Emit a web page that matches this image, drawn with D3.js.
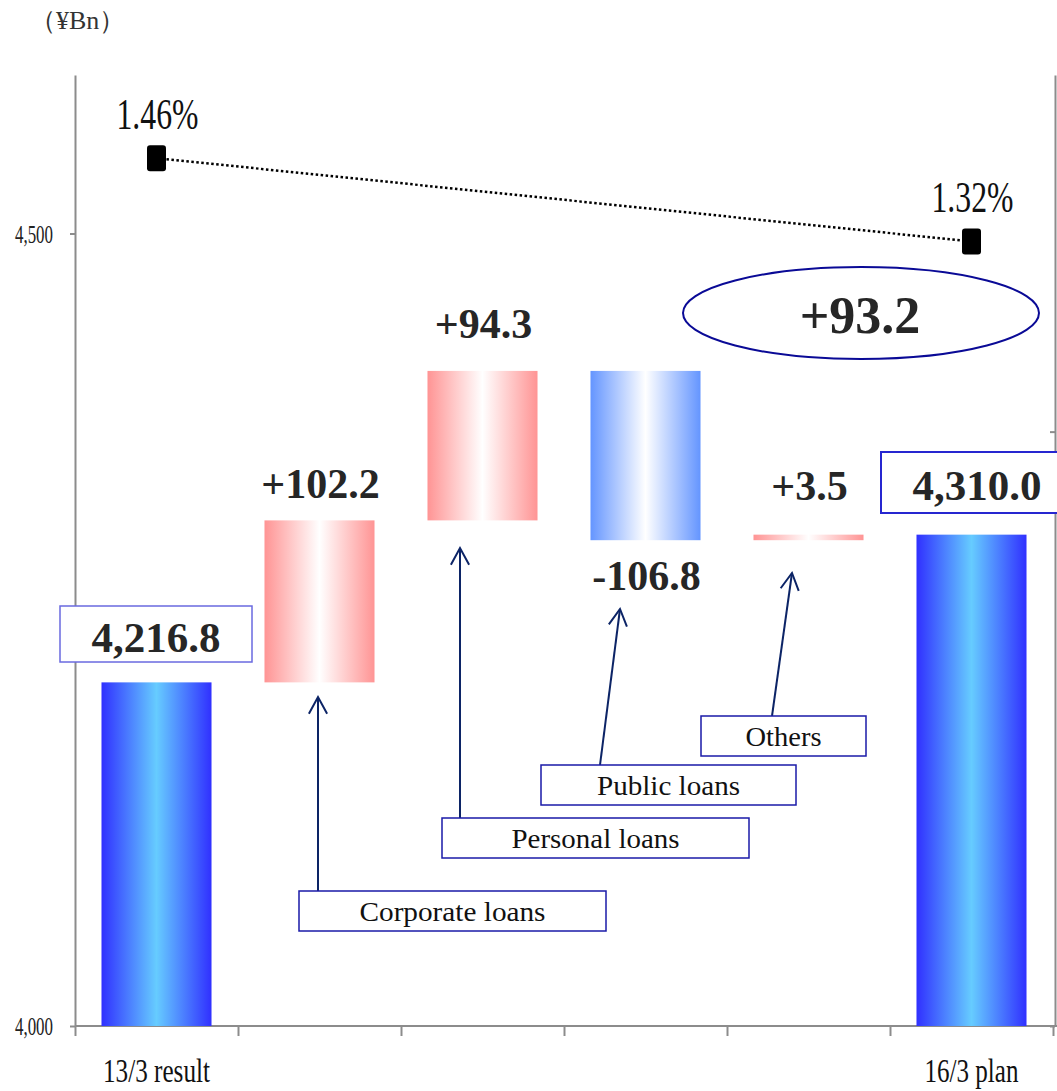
<!DOCTYPE html>
<html>
<head>
<meta charset="utf-8">
<script src="https://cdn.jsdelivr.net/npm/d3@7"></script>
<style>
  html, body { margin: 0; padding: 0; background: #fff; }
  svg { display: block; }
  text { font-family: "Liberation Serif", "Times New Roman", serif; }
</style>
</head>
<body>
<svg id="chart" width="1057" height="1091"></svg>
<script>
// ---- data ----
const categories = ["13/3 result", "Corporate loans", "Personal loans", "Public loans", "Others", "16/3 plan"];
const axisLabels = ["13/3 result", "", "", "", "", "16/3 plan"];
const startTotal = 4216.8;
const endTotal = 4310.0;
const changes = [null, 102.2, 94.3, -106.8, 3.5, null];
const netChange = 93.2;
const yieldValues = [1.46, null, null, null, null, 1.32];
const leftTicks = [4000, 4500];
const rightTicks = [0, 1.0];

// ---- layout ----
const W = 1057, H = 1091;
const plot = { left: 75, right: 1053, top: 75, bottom: 1026 };
const svg = d3.select("#chart");

const x = d3.scaleBand().domain(categories)
  .range([plot.left, plot.right]).paddingInner(0.325).paddingOuter(0.1625);
const y = d3.scaleLinear().domain([4000, 4600]).range([plot.bottom, plot.top]);
const yRight = d3.scaleLinear().domain([0, 1.6]).range([plot.bottom, plot.top]);
const xEdges = d3.scaleLinear().domain([0, categories.length]).range([plot.left, plot.right]);

// waterfall segments
let running = startTotal;
const bars = categories.map((c, i) => {
  if (i === 0) return { cat: c, lo: 4000, hi: startTotal, kind: "total" };
  if (i === categories.length - 1) return { cat: c, lo: 4000, hi: endTotal, kind: "total" };
  const from = running;
  running = +(running + changes[i]).toFixed(1);
  return { cat: c, lo: Math.min(from, running), hi: Math.max(from, running),
           kind: changes[i] >= 0 ? "up" : "down", value: changes[i] };
});

// ---- gradients ----
const defs = svg.append("defs");
function hGradient(id, edge, mid) {
  const g = defs.append("linearGradient").attr("id", id)
    .attr("x1", "0%").attr("x2", "100%").attr("y1", "0%").attr("y2", "0%");
  g.append("stop").attr("offset", "0%").attr("stop-color", edge);
  g.append("stop").attr("offset", "50%").attr("stop-color", mid);
  g.append("stop").attr("offset", "100%").attr("stop-color", edge);
}
hGradient("gTotal", "#3030ff", "#66ccff");
hGradient("gUp", "#ff9494", "#ffffff");
hGradient("gDown", "#6495ff", "#ffffff");
const fillFor = { total: "url(#gTotal)", up: "url(#gUp)", down: "url(#gDown)" };

// ---- axes ----
const axisColor = "#8c8c8c";
function styleAxis(g) {
  g.selectAll("path, line").attr("stroke", axisColor).attr("stroke-width", 2);
}

// left value axis
const gLeft = svg.append("g").attr("transform", `translate(${plot.left},0)`)
  .call(d3.axisLeft(y).tickValues(leftTicks).tickSize(5).tickSizeOuter(0).tickFormat(d3.format(",")));
styleAxis(gLeft);
gLeft.selectAll("text").remove();
leftTicks.forEach(v => {
  svg.append("text").attr("x", 15).attr("y", y(v) + 9)
    .attr("font-size", 25).attr("fill", "#222")
    .attr("textLength", 38).attr("lengthAdjust", "spacingAndGlyphs")
    .text(d3.format(",")(v));
});

// right percentage axis (ticks only)
const gRight = svg.append("g").attr("transform", `translate(1055,0)`)
  .call(d3.axisLeft(yRight).tickValues(rightTicks).tickSize(5).tickSizeOuter(0).tickFormat(""));
styleAxis(gRight);

// category axis with ticks at the group boundaries
const gBottom = svg.append("g").attr("transform", `translate(0,${plot.bottom})`)
  .call(d3.axisBottom(xEdges).tickValues(d3.range(categories.length + 1)).tickSize(10).tickSizeOuter(0).tickFormat(""));
styleAxis(gBottom);
gBottom.select("path.domain").attr("d", `M${plot.left},0H${W}`);

const axisLabelWidth = { "13/3 result": 107, "16/3 plan": 94 };
categories.forEach((c, i) => {
  const t = axisLabels[i];
  if (!t) return;
  svg.append("text").attr("x", x(c) + x.bandwidth() / 2).attr("y", 1082)
    .attr("text-anchor", "middle").attr("font-size", 33).attr("fill", "#111")
    .attr("textLength", axisLabelWidth[t]).attr("lengthAdjust", "spacingAndGlyphs")
    .text(t);
});

// unit label
svg.append("text").attr("x", 30).attr("y", 29).attr("font-size", 26).attr("fill", "#333")
  .text("（¥Bn）");

// ---- bars ----
svg.append("g").selectAll("rect").data(bars).join("rect")
  .attr("x", d => x(d.cat))
  .attr("width", x.bandwidth())
  .attr("y", d => y(d.hi))
  .attr("height", d => Math.max(3, y(d.lo) - y(d.hi)))
  .attr("fill", d => fillFor[d.kind]);

// ---- value labels ----
const boldColor = "#262626";
const fmtSigned = v => (v >= 0 ? "+" : "-") + Math.abs(v).toFixed(1);
const changeLabelY = { 1: 498, 2: 338, 3: 590, 4: 500 };
bars.forEach((d, i) => {
  if (d.kind === "total") return;
  svg.append("text").attr("x", x(d.cat) + x.bandwidth() / 2 + 1).attr("y", changeLabelY[i])
    .attr("text-anchor", "middle").attr("font-size", 42).attr("font-weight", "bold")
    .attr("fill", boldColor).text(fmtSigned(d.value));
});

// boxed totals
function totalBox(cat, value, box, stroke, sw) {
  svg.append("rect").attr("x", box.x).attr("y", box.y).attr("width", box.w).attr("height", box.h)
    .attr("fill", "#fff").attr("stroke", stroke).attr("stroke-width", sw);
  svg.append("text").attr("x", box.tx).attr("y", box.ty).attr("text-anchor", "middle")
    .attr("font-size", 43).attr("font-weight", "bold").attr("fill", boldColor)
    .text(d3.format(",.1f")(value));
}
totalBox(categories[0], startTotal, { x: 60, y: 606, w: 192, h: 56, tx: 156, ty: 652 }, "#6a6ae0", 1.5);
totalBox(categories[5], endTotal, { x: 881, y: 452, w: 200, h: 61, tx: 977, ty: 500 }, "#2626d0", 2);

// net change callout
svg.append("ellipse").attr("cx", 861).attr("cy", 313).attr("rx", 178).attr("ry", 46)
  .attr("fill", "none").attr("stroke", "#0a0a96").attr("stroke-width", 2);
svg.append("text").attr("x", 860).attr("y", 333).attr("text-anchor", "middle")
  .attr("font-size", 52).attr("font-weight", "bold").attr("fill", boldColor)
  .text(fmtSigned(netChange));

// ---- category callouts with arrows ----
const callouts = [
  { cat: "Corporate loans", box: [299, 891, 307, 40], from: [318, 891], to: [318, 697], tw: 186 },
  { cat: "Personal loans",  box: [442, 818, 307, 40], from: [460, 818], to: [460, 548], tw: 168 },
  { cat: "Public loans",    box: [541, 765, 255, 40], from: [600, 765], to: [620, 609], tw: 143 },
  { cat: "Others",          box: [701, 716, 165, 40], from: [772, 716], to: [792, 573], tw: 76 }
];
const arrowColor = "#0c2466";
callouts.forEach(c => {
  const [bx, by, bw, bh] = c.box;
  svg.append("line").attr("x1", c.from[0]).attr("y1", c.from[1]).attr("x2", c.to[0]).attr("y2", c.to[1])
    .attr("stroke", arrowColor).attr("stroke-width", 2);
  const ang = Math.atan2(c.to[1] - c.from[1], c.to[0] - c.from[0]);
  const len = 19, spread = 0.5;
  const p1 = [c.to[0] - len * Math.cos(ang - spread), c.to[1] - len * Math.sin(ang - spread)];
  const p2 = [c.to[0] - len * Math.cos(ang + spread), c.to[1] - len * Math.sin(ang + spread)];
  svg.append("path").attr("d", `M${p1}L${c.to}L${p2}`)
    .attr("fill", "none").attr("stroke", arrowColor).attr("stroke-width", 2);
  svg.append("rect").attr("x", bx).attr("y", by).attr("width", bw).attr("height", bh)
    .attr("fill", "#fff").attr("stroke", "#1a1aa8").attr("stroke-width", 1.5);
  svg.append("text").attr("x", bx + bw / 2).attr("y", by + bh / 2 + 10)
    .attr("text-anchor", "middle").attr("font-size", 28).attr("fill", "#111")
    .attr("textLength", c.tw).attr("lengthAdjust", "spacingAndGlyphs")
    .text(c.cat);
});

// ---- yield line on the right axis ----
const pts = categories.map((c, i) => ({ cat: c, v: yieldValues[i] })).filter(d => d.v != null);
const line = d3.line().x(d => x(d.cat) + x.bandwidth() / 2).y(d => yRight(d.v));
svg.append("path").datum(pts).attr("d", line)
  .attr("fill", "none").attr("stroke", "#000").attr("stroke-width", 2.5).attr("stroke-dasharray", "2.5,2.5");
svg.append("g").selectAll("rect").data(pts).join("rect")
  .attr("x", d => x(d.cat) + x.bandwidth() / 2 - 9.5)
  .attr("y", d => yRight(d.v) - 13)
  .attr("width", 19).attr("height", 26).attr("rx", 3)
  .attr("fill", "#000");
svg.append("g").selectAll("text").data(pts).join("text")
  .attr("x", d => x(d.cat) + x.bandwidth() / 2 + 1)
  .attr("y", d => yRight(d.v) - 29)
  .attr("text-anchor", "middle").attr("font-size", 45).attr("fill", "#111")
  .attr("textLength", 82).attr("lengthAdjust", "spacingAndGlyphs")
  .text(d => d.v.toFixed(2) + "%");
</script>
</body>
</html>
